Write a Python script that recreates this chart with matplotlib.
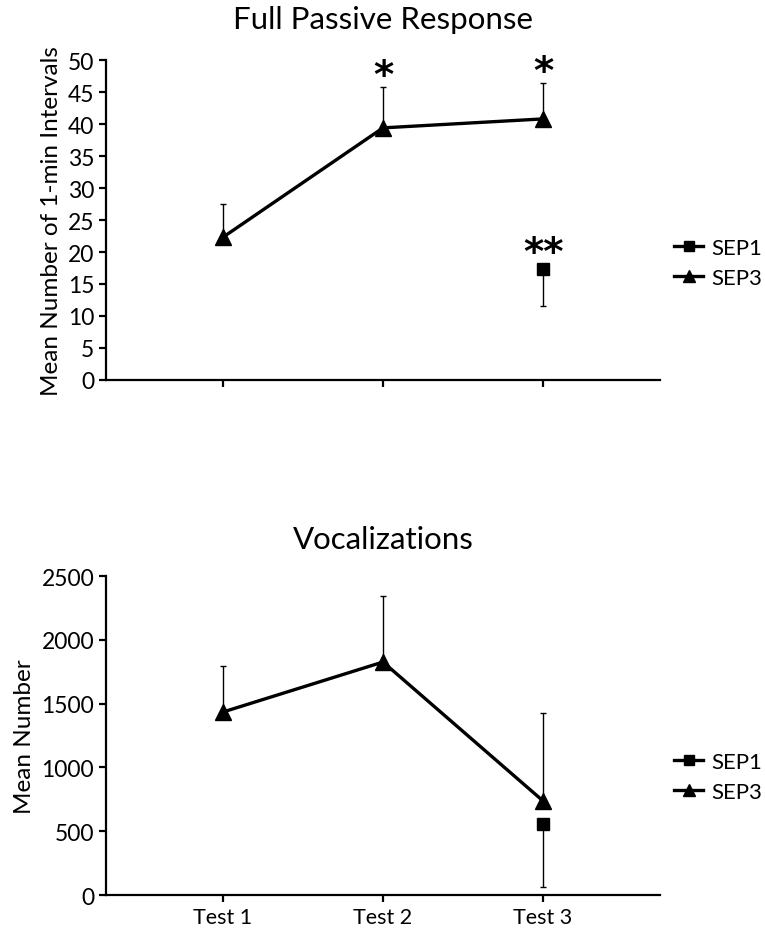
import matplotlib
matplotlib.use("Agg")
import matplotlib.pyplot as plt
import numpy as np

# ---------------------------------------------------------------------------
# Data
# ---------------------------------------------------------------------------
tests = ["Test 1", "Test 2", "Test 3"]
x_pos = np.arange(1, len(tests) + 1)

# Full passive response (mean number of 1-min intervals)
fpr_sep3 = [22.3, 39.4, 40.8]
fpr_sep3_err = [5.2, 6.4, 5.6]          # upper error only
fpr_sep1_x = [3]
fpr_sep1 = [17.3]
fpr_sep1_err = [5.7]                    # lower error only
fpr_stars = ["", "*", "*"]
fpr_sep1_star = "**"

# Vocalizations (mean number)
voc_sep3 = [1434, 1826, 737]
voc_sep3_err = [360, 517, 690]
voc_sep1_x = [3]
voc_sep1 = [556]
voc_sep1_err = [493]

plt.rcParams["font.family"] = ["Lato", "DejaVu Sans"]

FIG_W, FIG_H = 765, 929
fig = plt.figure(figsize=(FIG_W / 100, FIG_H / 100), dpi=100)

ax1 = fig.add_axes([0.1386, 0.5899, 0.7241, 0.3444])
ax2 = fig.add_axes([0.1386, 0.0355, 0.7241, 0.3434])


def _style(ax):
    for side in ("top", "right"):
        ax.spines[side].set_visible(False)
    for side in ("left", "bottom"):
        ax.spines[side].set_linewidth(1.6)
    ax.tick_params(axis="both", direction="out", width=1.6, length=5, labelsize=16.5)
    ax.set_xlim(0.27, 3.73)
    ax.set_xticks(x_pos)


def _series(ax, y3, e3, x1, y1, e1):
    zeros3 = np.zeros(len(y3))
    zeros1 = np.zeros(len(y1))
    ax.errorbar(x_pos, y3, yerr=[zeros3, e3], fmt="none", ecolor="black",
                elinewidth=1.0, capsize=2.5, capthick=1.0, zorder=2)
    ax.errorbar(x1, y1, yerr=[e1, zeros1], fmt="none", ecolor="black",
                elinewidth=1.0, capsize=2.5, capthick=1.0, zorder=2)
    h1, = ax.plot(x1, y1, color="black", lw=2.4, marker="s", markersize=9,
                  label="SEP1", zorder=3)
    h3, = ax.plot(x_pos, y3, color="black", lw=2.4, marker="^", markersize=11.5,
                  label="SEP3", zorder=3)
    return h1, h3


# ---------------------------------------------------------------------------
# Top: Full Passive Response
# ---------------------------------------------------------------------------
_style(ax1)
h1, h3 = _series(ax1, fpr_sep3, fpr_sep3_err, fpr_sep1_x, fpr_sep1, fpr_sep1_err)
ax1.set_ylim(0, 50)
ax1.set_yticks(np.arange(0, 51, 5))
ax1.set_xticklabels([])
ax1.set_ylabel("Mean Number of 1-min Intervals", fontsize=17.5, labelpad=4)
ax1.set_title("Full Passive Response", fontsize=22.5, pad=23)
for xi, yi, ei, s in zip(x_pos, fpr_sep3, fpr_sep3_err, fpr_stars):
    if s:
        ax1.text(xi, yi + ei - 1.3, s, ha="center", va="bottom", fontsize=28,
                 fontweight="bold", family="DejaVu Sans")
ax1.text(fpr_sep1_x[0], fpr_sep1[0] - 0.5, fpr_sep1_star, ha="center", va="bottom",
         fontsize=28, fontweight="bold", family="DejaVu Sans")
ax1.legend(handles=[h1, h3], loc="center left", bbox_to_anchor=(0.99, 0.365),
           frameon=False, fontsize=16, handlelength=1.3, handletextpad=0.35,
           labelspacing=0.45, markerscale=0.8)

# ---------------------------------------------------------------------------
# Bottom: Vocalizations
# ---------------------------------------------------------------------------
_style(ax2)
h1, h3 = _series(ax2, voc_sep3, voc_sep3_err, voc_sep1_x, voc_sep1, voc_sep1_err)
ax2.set_ylim(0, 2500)
ax2.set_yticks(np.arange(0, 2501, 500))
ax2.set_xticklabels(tests, fontsize=15.5)
ax2.set_ylabel("Mean Number", fontsize=17.5, labelpad=5)
ax2.set_title("Vocalizations", fontsize=22.5, pad=20)
ax2.legend(handles=[h1, h3], loc="center left", bbox_to_anchor=(0.99, 0.37),
           frameon=False, fontsize=16, handlelength=1.3, handletextpad=0.35,
           labelspacing=0.45, markerscale=0.8)

fig.savefig("out.png", dpi=100)
